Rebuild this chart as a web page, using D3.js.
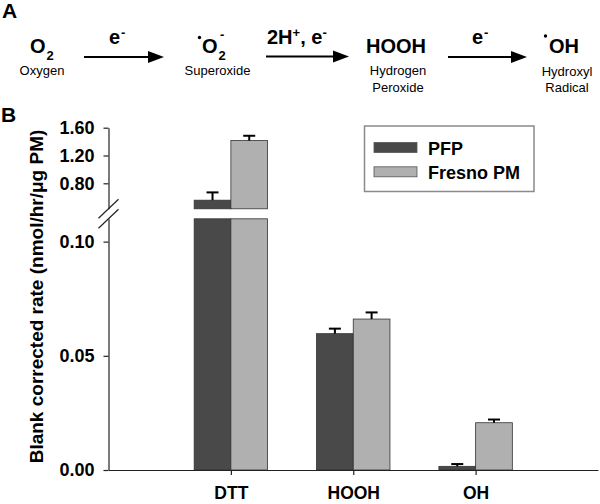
<!DOCTYPE html>
<meta charset="utf-8">
<style>
    body { margin: 0; background: #fff; }
    svg { font-family: "Liberation Sans", Arial, sans-serif; }
    .axis path, .axis line { stroke: #222; stroke-width: 1.2px; }
    .axis text { font-size: 18px; font-weight: bold; fill: #000; }
    .axis--x text { font-size: 17.5px; }
    .bold { font-weight: bold; }
</style>
<svg width="600" height="504"></svg>
<script src="https://cdn.jsdelivr.net/npm/d3@7"></script>
<script>

    // chart data
    var categories = ["DTT", "HOOH", "OH"];
    var seriesNames = ["PFP", "Fresno PM"];
    var pfpValues = [0.557, 0.0597, 0.0016];
    var pfpErrors = [0.112, 0.0022, 0.0010];
    var fresnoValues = [1.415, 0.0661, 0.0207];
    var fresnoErrors = [0.069, 0.0029, 0.0014];
    var lowerTicks = [0.00, 0.05, 0.10];
    var upperTicks = [0.80, 1.20, 1.60];

    var svg = d3.select("svg");
    var colors = ["#494949", "#b0b0b0"];

    // ---------- panel A : reaction scheme ----------
    svg.append("text").attr("class", "bold").attr("x", 2).attr("y", 18)
        .style("font-size", "21px").text("A");
    svg.append("text").attr("class", "bold").attr("x", 1).attr("y", 122)
        .style("font-size", "21px").text("B");

    function arrow(x1, x2, y) {
        svg.append("line").attr("x1", x1).attr("x2", x2 - 10).attr("y1", y).attr("y2", y)
            .attr("stroke", "#000").attr("stroke-width", 2.2);
        svg.append("path").attr("d", "M" + (x2 - 16) + "," + (y - 6) + "L" + x2 + "," + y + "L" + (x2 - 16) + "," + (y + 6) + "Z")
            .attr("fill", "#000");
    }
    arrow(84, 164, 57);
    arrow(266, 349, 56.5);
    arrow(448, 527, 57);

    function big(x, y, s) {
        return svg.append("text").attr("class", "bold").attr("x", x).attr("y", y)
            .style("font-size", "20px").text(s);
    }
    function small(x, y, s) {
        return svg.append("text").attr("class", "bold").attr("x", x).attr("y", y)
            .style("font-size", "13px").text(s);
    }
    function label(x, y, s) {
        return svg.append("text").attr("x", x).attr("y", y).attr("text-anchor", "middle")
            .style("font-size", "13px").text(s);
    }

    // O2
    big(30, 53, "O");
    small(46.5, 60, "2");
    label(42, 75, "Oxygen");
    // superoxide
    svg.append("circle").attr("cx", 199.5).attr("cy", 37.5).attr("r", 1.7);
    big(202, 53, "O");
    small(218.5, 60, "2");
    small(220, 39, "-");
    label(217.5, 75, "Superoxide");
    // HOOH
    big(366, 53, "HOOH");
    label(398, 75, "Hydrogen");
    label(398, 92, "Peroxide");
    // hydroxyl
    svg.append("circle").attr("cx", 545.5).attr("cy", 36).attr("r", 1.7);
    big(549, 53, "OH");
    label(567, 76, "Hydroxyl");
    label(567, 92, "Radical");

    // arrow labels
    big(109, 44, "e");
    small(121, 37, "-");
    var t2 = big(267, 44, "2H");
    t2.append("tspan").attr("dy", -7).style("font-size", "13px").text("+");
    t2.append("tspan").attr("dy", 7).text(", e");
    t2.append("tspan").attr("dy", -7).style("font-size", "13px").text("-");
    big(472, 44, "e");
    small(484, 37, "-");

    // ---------- panel B : bar chart with broken axis ----------
    var axisX = 108.5, baseY = 470;
    var x = d3.scaleLinear().domain([0, 4]).range([axisX, 598]);
    var yLow = d3.scaleLinear().domain([0, 0.11]).range([baseY, 218.8]);
    var yUp = d3.scaleLinear().domain([0.433, 1.60]).range([208.8, 127.7]);
    var barW = (x(1) - x(0)) * 0.3;

    var bars = [];
    categories.forEach(function(c, i) {
        bars.push({cat: i, s: 0, v: pfpValues[i], e: pfpErrors[i]});
        bars.push({cat: i, s: 1, v: fresnoValues[i], e: fresnoErrors[i]});
    });
    var lowMax = yLow.domain()[1], upMin = yUp.domain()[0];

    var g = svg.append("g");
    bars.forEach(function(d) {
        var x0 = x(d.cat + 1) + (d.s === 0 ? -barW : 0);
        var top = Math.min(d.v, lowMax);
        g.append("rect").attr("x", x0).attr("width", barW)
            .attr("y", yLow(top)).attr("height", yLow(0) - yLow(top))
            .attr("fill", colors[d.s]).attr("stroke", "#333").attr("stroke-width", 0.8);
        var ys = yLow;
        if (d.v > lowMax) {
            ys = yUp;
            g.append("rect").attr("x", x0).attr("width", barW)
                .attr("y", yUp(d.v)).attr("height", yUp(upMin) - yUp(d.v))
                .attr("fill", colors[d.s]).attr("stroke", "#333").attr("stroke-width", 0.8);
        }
        var cx = x0 + barW / 2;
        g.append("line").attr("x1", cx).attr("x2", cx)
            .attr("y1", ys(d.v)).attr("y2", ys(d.v + d.e))
            .attr("stroke", "#000").attr("stroke-width", 2);
        g.append("line").attr("x1", cx - 6).attr("x2", cx + 6)
            .attr("y1", ys(d.v + d.e)).attr("y2", ys(d.v + d.e))
            .attr("stroke", "#000").attr("stroke-width", 2);
    });

    // axes
    svg.append("g").attr("class", "axis")
        .attr("transform", "translate(" + axisX + ",0)")
        .call(d3.axisLeft(yLow).tickValues(lowerTicks).tickFormat(d3.format(".2f"))
            .tickSize(5).tickSizeOuter(0).tickPadding(9));
    svg.append("g").attr("class", "axis")
        .attr("transform", "translate(" + axisX + ",0)")
        .call(d3.axisLeft(yUp).tickValues(upperTicks).tickFormat(d3.format(".2f"))
            .tickSize(5).tickSizeOuter(0).tickPadding(9));
    svg.append("g").attr("class", "axis axis--x")
        .attr("transform", "translate(0," + baseY + ")")
        .call(d3.axisBottom(x).tickValues([1, 2, 3]).tickFormat(function(i) { return categories[i - 1]; })
            .tickSize(5).tickSizeOuter(0).tickPadding(12));
    svg.selectAll(".axis text").attr("font-family", null);

    // break marks
    [yUp(upMin), yLow(lowMax)].forEach(function(yb) {
        svg.append("line").attr("x1", axisX - 10).attr("y1", yb + 9.5)
            .attr("x2", axisX + 10).attr("y2", yb - 9.5)
            .attr("stroke", "#222").attr("stroke-width", 1.2);
    });

    // y title
    svg.append("text").attr("class", "bold")
        .attr("transform", "translate(42.5,296.5) rotate(-90)")
        .attr("text-anchor", "middle")
        .style("font-size", "19px")
        .text("Blank corrected rate (nmol/hr/\u03bcg PM)");

    // legend
    var lg = svg.append("g").attr("transform", "translate(364.5,126)");
    lg.append("rect").attr("width", 169.5).attr("height", 65.5)
        .attr("fill", "#fff").attr("stroke", "#8a8a8a").attr("stroke-width", 1.5);
    seriesNames.forEach(function(s, i) {
        lg.append("rect").attr("x", 9.5).attr("y", 16.5 + i * 24.3).attr("width", 43).attr("height", 10)
            .attr("fill", colors[i]).attr("stroke", "#555").attr("stroke-width", 0.8);
        lg.append("text").attr("class", "bold").attr("x", 63.5).attr("y", 28.5 + i * 24.3)
            .style("font-size", "18px").text(s);
    });

</script>
